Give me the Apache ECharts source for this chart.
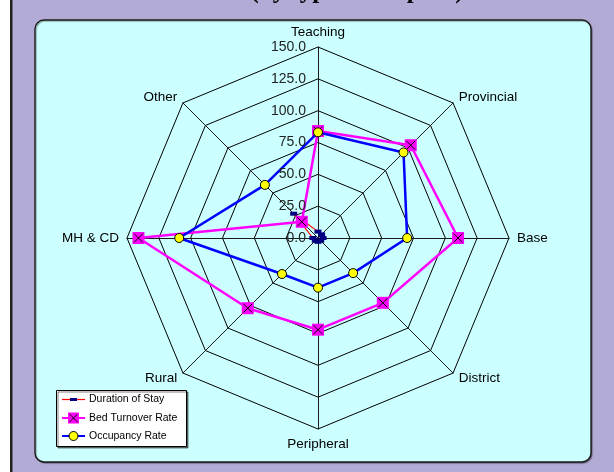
<!DOCTYPE html>
<html><head><meta charset="utf-8">
<script src="https://cdn.jsdelivr.net/npm/echarts@6/dist/echarts.min.js"></script>
<style>html,body{margin:0;padding:0;background:#fff}#c{width:614px;height:472px}</style>
</head><body><div id="c"></div>
<script>
const categories = ['Teaching', 'Provincial', 'Base', 'District', 'Peripheral', 'Rural', 'MH & CD', 'Other'];
const durationOfStay = [5, 4, 4, 3, 3, 3, 4, 27];
const bedTurnoverRate = [84, 103, 110, 72, 72, 78, 141, 18];
const occupancyRate = [83, 95, 70, 39, 39, 40, 109, 59];
const tickValues = [0, 25, 50, 75, 100, 125, 150];
const seriesNames = ['Duration of Stay', 'Bed Turnover Rate', 'Occupancy Rate'];
const titleText = 'Hospital Indicators\n(by type of hospital)';

// ECharts lays radar indicators counter-clockwise; reorder so they read clockwise
const order = [0, 7, 6, 5, 4, 3, 2, 1];
const reorder = a => order.map(i => a[i]);
const axisMax = tickValues[tickValues.length - 1];
const step = tickValues[1] - tickValues[0];

const FONT = '"Liberation Sans", Arial, sans-serif';
const CX = 318, CY = 238, R = 191;

const chart = echarts.init(document.getElementById('c'), null, {renderer: 'canvas'});

const legendRows = [
  {name: seriesNames[0], line: '#ff0000', y: 399.5},
  {name: seriesNames[1], line: '#ff00ff', y: 418},
  {name: seriesNames[2], line: '#0000ff', y: 436}
];
const legendEls = [{
  type: 'rect', z: 100,
  shape: {x: 56.5, y: 390.5, width: 130, height: 56},
  style: {fill: '#ffffff', stroke: '#000', lineWidth: 1, shadowColor: 'rgba(0,0,0,0.5)', shadowOffsetX: 1.5, shadowOffsetY: 1.5}
}];
legendRows.forEach((r, i) => {
  legendEls.push({type: 'line', z: 101, shape: {x1: 62, y1: r.y, x2: 85, y2: r.y}, style: {stroke: r.line, lineWidth: i === 0 ? 1.2 : 2}});
  if (i === 0) {
    legendEls.push({type: 'rect', z: 102, shape: {x: 70, y: r.y - 1.5, width: 7, height: 3}, style: {fill: '#000080'}});
  } else if (i === 1) {
    legendEls.push({type: 'rect', z: 102, shape: {x: 68, y: r.y - 5.5, width: 11, height: 11}, style: {fill: '#ff00ff'}});
    legendEls.push({type: 'polyline', z: 103, shape: {points: [[69.5, r.y - 4], [77.5, r.y + 4]]}, style: {stroke: '#000', lineWidth: 1}});
    legendEls.push({type: 'polyline', z: 103, shape: {points: [[77.5, r.y - 4], [69.5, r.y + 4]]}, style: {stroke: '#000', lineWidth: 1}});
  } else {
    legendEls.push({type: 'circle', z: 102, shape: {cx: 73.5, cy: r.y, r: 4.5}, style: {fill: '#ffff00', stroke: '#000', lineWidth: 1}});
  }
  legendEls.push({type: 'text', z: 102, x: 89, y: r.y,
    style: {text: r.name, font: '10.5px ' + FONT, fill: '#000', align: 'left', verticalAlign: 'middle', textAlign: 'left', textVerticalAlign: 'middle'}});
});

const option = {
  animation: false,
  backgroundColor: '#b1abd5',
  graphic: {elements: [
    {type: 'rect', z: -10, shape: {x: 0, y: 0, width: 10, height: 472}, style: {fill: '#ffffff'}},
    {type: 'rect', z: -9, shape: {x: 10, y: 0, width: 2.5, height: 472}, style: {fill: '#222222'}},
    {type: 'rect', z: -8, shape: {x: 35, y: 20, width: 556, height: 442, r: 9},
      style: {fill: '#ccffff', stroke: '#1a1a1a', lineWidth: 1.4, shadowColor: 'rgba(0,0,0,0.35)', shadowOffsetX: 1, shadowOffsetY: 1, shadowBlur: 1}},
    {type: 'text', z: -7, x: 357, y: 5,
      style: {text: titleText, font: 'bold 25px "Liberation Serif", "Times New Roman", serif', fill: '#000', lineHeight: 27,
        align: 'center', verticalAlign: 'bottom', textAlign: 'center', textVerticalAlign: 'bottom'}}
  ].concat(legendEls)},
  radar: {
    center: [CX, CY],
    radius: R,
    startAngle: 90,
    shape: 'polygon',
    splitNumber: tickValues.length - 1,
    indicator: reorder(categories).map(n => ({name: n, min: 0, max: axisMax})),
    axisName: {color: '#000', fontSize: 13.5, fontFamily: FONT},
    nameGap: 8,
    axisLine: {lineStyle: {color: '#1a1a1a', width: 1}},
    splitLine: {lineStyle: {color: '#000', width: 1}},
    splitArea: {show: false},
    axisTick: {show: false},
    axisLabel: {show: false}
  },
  polar: {center: [CX, CY], radius: R},
  angleAxis: {show: false, startAngle: 90, min: 0, max: 360},
  radiusAxis: {
    min: 0, max: axisMax, interval: step,
    axisLine: {show: false}, axisTick: {show: false}, splitLine: {show: false},
    axisLabel: {show: true, showMinLabel: true, formatter: v => v.toFixed(1), fontSize: 14, fontFamily: FONT, color: '#222', margin: 12},
    z: 5
  },
  series: [
    {type: 'radar', z: 2, silent: true, symbol: 'rect', symbolSize: [7, 4],
      lineStyle: {color: '#ff0000', width: 1.2}, itemStyle: {color: '#000080'},
      data: [{name: seriesNames[0], value: reorder(durationOfStay)}]},
    {type: 'radar', z: 3, silent: true, symbol: 'rect', symbolSize: 12,
      lineStyle: {color: '#ff00ff', width: 2.5}, itemStyle: {color: '#ff00ff'},
      data: [{name: seriesNames[1], value: reorder(bedTurnoverRate)}]},
    {type: 'radar', z: 4, silent: true, symbol: 'path://M0,0L10,10M10,0L0,10', symbolSize: 9,
      lineStyle: {width: 0, opacity: 0}, itemStyle: {color: 'none', borderColor: '#000', borderWidth: 1},
      data: [{name: seriesNames[1] + ' ', value: reorder(bedTurnoverRate)}]},
    {type: 'radar', z: 5, silent: true, symbol: 'circle', symbolSize: 9,
      lineStyle: {color: '#0000ff', width: 2.5}, itemStyle: {color: '#ffff00', borderColor: '#000', borderWidth: 1},
      data: [{name: seriesNames[2], value: reorder(occupancyRate)}]}
  ]
};
chart.setOption(option);
</script>
</body></html>
